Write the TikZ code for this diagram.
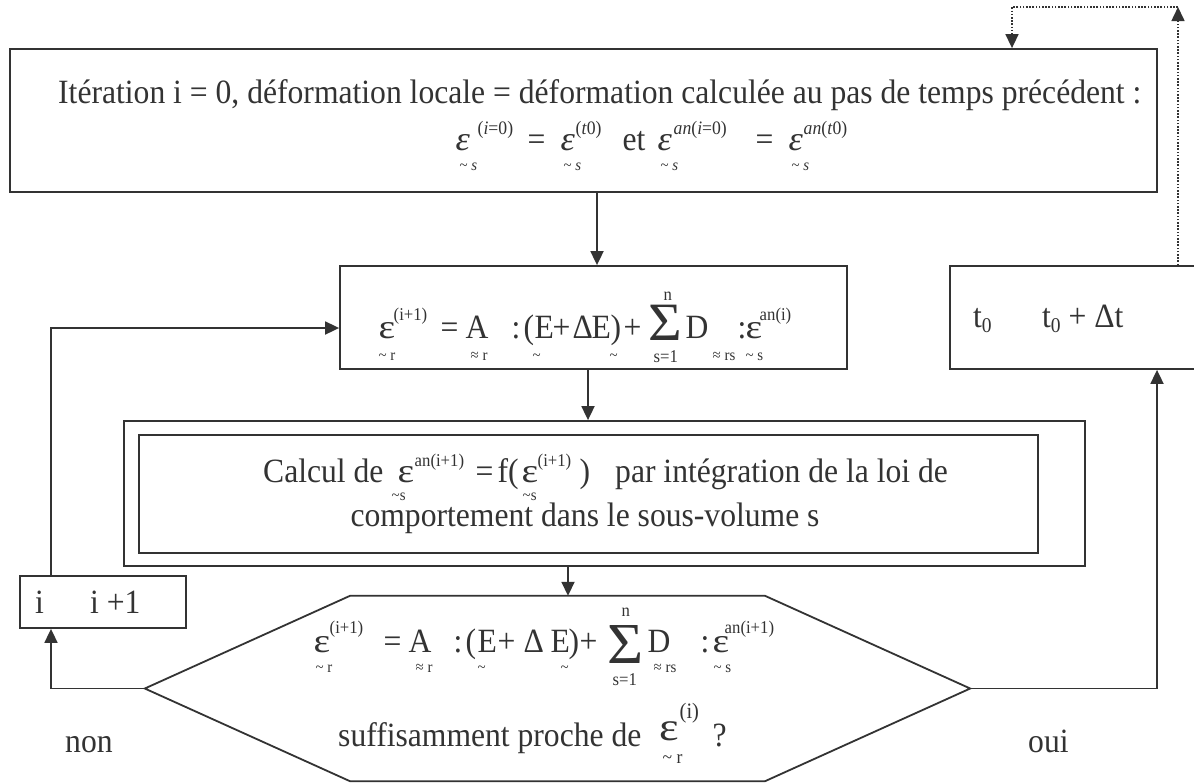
\documentclass[tikz,border=0pt]{standalone}
\usepackage{fontspec}
\setmainfont[FakeStretch=0.93]{Liberation Serif}
\usetikzlibrary{arrows.meta}
\definecolor{ink}{HTML}{333333}
\newcommand{\fs}[1]{\fontsize{#1}{#1}\selectfont}
\newcommand{\pc}[3]{\rlap{\hspace*{#1pt}\raisebox{#2pt}{#3}}}
\newcommand{\tl}{\textasciitilde}
\newcommand{\ep}{\scalebox{1.25}[1]{ε}}
\newcommand{\epi}{\scalebox{1.15}[1]{\textit{ε}}}
\newcommand{\bigS}[1]{\scalebox{1.15}[1]{\fs{#1}Σ}}
\begin{document}
\begin{tikzpicture}[x=1pt,y=-1pt,
  box/.style={draw=ink, line width=1.8pt, inner sep=0pt},
  lbl/.style={inner sep=0pt, text=ink, font=\fs{34}},
  arr/.style={draw=ink, line width=1.8pt, -{Triangle[length=14pt,width=13pt]}},
  dotarr/.style={draw=ink, line width=1.6pt, dash pattern=on 1.6pt off 1.6pt, -{Triangle[length=14pt,width=13pt]}}]
\useasboundingbox (0,0) rectangle (1194,782);
\fill[white] (0,0) rectangle (1194,782);

% boxes
\node[box, minimum width=1147pt, minimum height=143pt] (top) at (583.5,120.5) {};
\node[box, minimum width=507pt, minimum height=103pt] (box2) at (593.5,317.5) {};
\node[box, minimum width=260pt, minimum height=103pt] (tbox) at (1080,317.5) {};
\node[box, minimum width=961pt, minimum height=145pt] (dblo) at (604.5,493.5) {};
\node[box, minimum width=899pt, minimum height=118pt] (dbli) at (588.5,494) {};
\node[box, minimum width=166pt, minimum height=52pt] (ibox) at (103,602) {};
% hexagon (decision)
\node[inner sep=0pt, minimum width=825pt, minimum height=185pt] (hex) at (557.5,688.5) {};
\draw[ink, line width=1.8pt, line join=miter] (hex.west) -- (350,0 |- hex.north) -- (765,0 |- hex.north)
  -- (hex.east) -- (765,0 |- hex.south) -- (350,0 |- hex.south) -- cycle;

% top box text
\node[lbl, anchor=base west] (t1) at (58,103) {Itération i = 0, déformation locale = déformation calculée au pas de temps précédent :};
\node[lbl, anchor=base west] (tf) at (455,150) {\pc{0}{0}{\epi}\pc{22}{16}{\fs{19}(\textit{i}=0)}\pc{4}{-20}{\fs{16}\tl\ \textit{s}}%
\pc{72}{0}{=}%
\pc{105}{0}{\epi}\pc{120}{16}{\fs{19}(\textit{t}0)}\pc{108}{-20}{\fs{16}\tl\ \textit{s}}%
\pc{167}{0}{et}%
\pc{202}{0}{\epi}\pc{218}{16}{\fs{19}\textit{an}(\textit{i}=0)}\pc{205}{-20}{\fs{16}\tl\ \textit{s}}%
\pc{300}{0}{=}%
\pc{333}{0}{\epi}\pc{348}{16}{\fs{19}\textit{an}(\textit{t}0)}\pc{336}{-20}{\fs{16}\tl\ \textit{s}}};

% box 2 formula
\node[lbl, anchor=base west] (f2) at (378,338) {\pc{0}{0}{\ep}\pc{15}{18}{\fs{18}(i+1)}\pc{0}{-22}{\fs{16}\tl\ r}%
\pc{62}{0}{=}%
\pc{87}{0}{A}\pc{92}{-22}{\fs{16}≈\ r}%
\pc{133}{0}{:}%
\pc{145}{0}{(}\pc{156}{0}{E}\pc{174}{0}{+}\pc{194}{0}{Δ}\pc{213}{0}{E}\pc{232}{0}{)}\pc{245}{0}{+}%
\pc{154}{-22}{\fs{16}\tl}\pc{231}{-22}{\fs{16}\tl}%
\pc{270}{-2}{\bigS{54}}\pc{285}{38}{\fs{18}n}\pc{275}{-24}{\fs{18}s=1}%
\pc{307}{0}{D}\pc{334}{-22}{\fs{16}≈\ rs}%
\pc{359}{0}{:}%
\pc{367}{0}{\ep}\pc{367}{-22}{\fs{16}\tl\ s}\pc{381}{18}{\fs{18}an(i)}};

% t box
\node[lbl, anchor=base west] (tt0) at (973,327) {t\raisebox{-5pt}{\fs{21}0}};
\node[lbl, anchor=base west] (tt1) at (1042,327) {t\raisebox{-5pt}{\fs{21}0} + Δt};

% double box text
\node[lbl, anchor=base west] (dc) at (263,482) {Calcul de};
\node[lbl, anchor=base west] (df) at (397,482) {\pc{0}{0}{\ep}\pc{-6}{-18}{\fs{16}\tl s}\pc{17}{16}{\fs{18}an(i+1)}%
\pc{78}{0}{=}\pc{100}{0}{f(}\pc{124}{0}{\ep}\pc{125}{-18}{\fs{16}\tl s}\pc{140}{16}{\fs{18}(i+1)}\pc{182}{0}{)}};
\node[lbl, anchor=base west] (dp) at (615,482) {par intégration de la loi de};
\node[lbl, anchor=base] (dl2) at (585,526) {comportement dans le sous-volume s};

% i box
\node[lbl, anchor=base west] (i0) at (35,613) {i};
\node[lbl, anchor=base west] (i1) at (90,613) {i +1};

% hexagon text
\node[lbl, anchor=base west] (hf1) at (313,652) {\pc{0}{0}{\ep}\pc{16}{19}{\fs{18}(i+1)}\pc{2}{-20}{\fs{16}\tl\ r}%
\pc{70}{0}{=}\pc{95}{0}{A}\pc{102}{-20}{\fs{16}≈\ r}\pc{140}{0}{:}%
\pc{152}{0}{(}\pc{164}{0}{E}\pc{184}{0}{+}\pc{210}{0}{Δ}\pc{237}{0}{E}\pc{255}{0}{)}\pc{266}{0}{+}%
\pc{164}{-20}{\fs{16}\tl}\pc{247}{-20}{\fs{16}\tl}%
\pc{294}{-11}{\bigS{58}}\pc{308}{36}{\fs{18}n}\pc{299}{-33}{\fs{18}s=1}%
\pc{334}{0}{D}\pc{340}{-20}{\fs{16}≈\ rs}\pc{387}{0}{:}%
\pc{399}{0}{\ep}\pc{400}{-20}{\fs{16}\tl\ s}\pc{411}{19}{\fs{18}an(i+1)}};
\node[lbl, anchor=base west] (hs) at (338,746) {suffisamment proche de};
\node[lbl, anchor=base west] (hf2) at (659,746) {\pc{0}{6}{\fs{40}\ep}\pc{20}{28}{\fs{22}(i)}\pc{3}{-17}{\fs{19}\tl\ r}\pc{53}{0}{?}};

\node[lbl, anchor=base west] (non) at (65,752) {non};
\node[lbl, anchor=base west] (oui) at (1028,752) {oui};

% connectors
\draw[arr] (597,0 |- top.south) -- (597,0 |- box2.north);
\draw[arr] (588,0 |- box2.south) -- (588,0 |- dblo.north);
\draw[arr] (568,0 |- dblo.south) -- (568,0 |- hex.north);
\draw[arr] (hex.west) -| (51,0 |- ibox.south);
\draw[arr] (51,0 |- ibox.north) |- (box2.west |- 0,328);
\draw[arr] (hex.east) -| (1157,0 |- tbox.south);
\coordinate (c1) at (1178,7);
\coordinate (c2) at (1012,7);
\draw[dotarr] (1178,0 |- tbox.north) -- (c1);
\draw[dotarr] (c1) -- (c2) -- (1012,0 |- top.north);
\end{tikzpicture}
\end{document}
